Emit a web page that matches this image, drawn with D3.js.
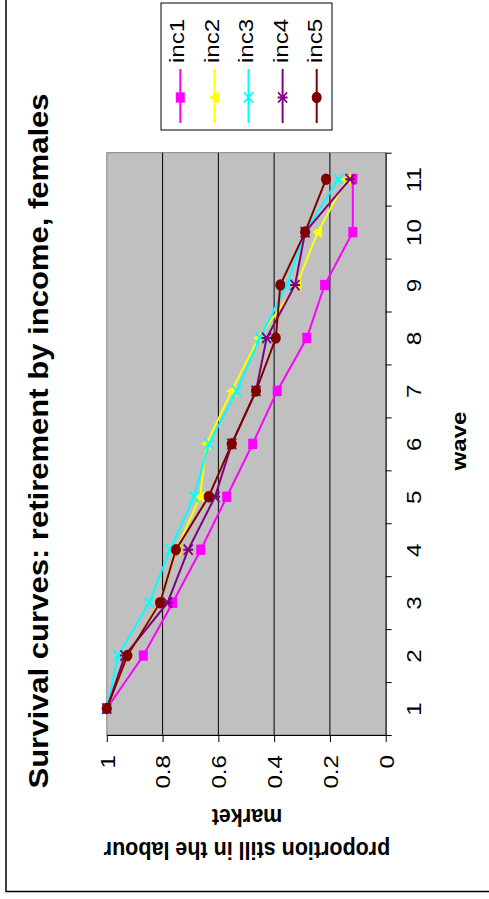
<!DOCTYPE html>
<html><head><meta charset="utf-8">
<script src="https://cdn.jsdelivr.net/npm/d3@7"></script>
<style>html,body{margin:0;padding:0;background:#fff;} svg{display:block;font-family:"Liberation Sans",Arial,Helvetica,sans-serif;}</style>
</head><body>
<svg id="c" width="489" height="899"></svg>
<script>
// ---------- data ----------
const waves = [1, 2, 3, 4, 5, 6, 7, 8, 9, 10, 11];
const valueTicks = [0, 0.2, 0.4, 0.6, 0.8, 1];
const seriesNames = ["inc1", "inc2", "inc3", "inc4", "inc5"];
const inc1 = [1, 0.869, 0.764, 0.663, 0.570, 0.477, 0.389, 0.283, 0.219, 0.118, 0.118];
const inc2 = [1, 0.925, 0.810, 0.750, 0.666, 0.642, 0.552, 0.456, 0.319, 0.244, 0.140];
const inc3 = [1, 0.959, 0.848, 0.773, 0.687, 0.634, 0.534, 0.451, 0.355, 0.289, 0.170];
const inc4 = [1, 0.935, 0.782, 0.708, 0.612, 0.552, 0.465, 0.427, 0.325, 0.289, 0.128];
const inc5 = [1, 0.926, 0.809, 0.752, 0.635, 0.552, 0.465, 0.394, 0.378, 0.289, 0.214];
const titleText = "Survival curves: retirement by income, females";
const xTitle = "wave";
const yTitleLines = ["proportion still in the labour", "market"];

// ---------- styles ----------
const seriesColors = ["#FF00FF", "#FFFF00", "#00FFFF", "#800080", "#800000"];
const markerTypes = ["square", "triangle", "x", "star", "circle"];
const K = 1.15; // vertical stretch of the (rotated) picture
const plot = {left: 106.8, right: 385.7, top: 152.7, bottom: 735};

const svg = d3.select("#c");
svg.append("rect").attr("width", 489).attr("height", 899).attr("fill", "#fff");

const x = d3.scaleLinear().domain([0, 1]).range([plot.right, plot.left]);
const y = d3.scaleLinear().domain([0.5, 11.5]).range([plot.bottom, plot.top]);

// outer frame (left and bottom visible)
svg.append("path").attr("d", "M6,-5V891.5H495").attr("fill", "none")
  .attr("stroke", "#000").attr("stroke-width", 1.5);

// plot area
svg.append("rect").attr("x", plot.left).attr("y", plot.top)
  .attr("width", plot.right - plot.left).attr("height", plot.bottom - plot.top)
  .attr("fill", "#C0C0C0").attr("stroke", "#808080").attr("stroke-width", 1);

// gridlines
svg.append("g").selectAll("line").data(valueTicks.filter(d => d > 0 && d < 1)).join("line")
  .attr("x1", d => x(d)).attr("x2", d => x(d))
  .attr("y1", plot.top).attr("y2", plot.bottom)
  .attr("stroke", "#000").attr("stroke-width", 1);

// value axis (bottom of picture)
const xAxis = svg.append("g").attr("transform", `translate(0,${plot.bottom})`)
  .call(d3.axisBottom(x).tickValues(valueTicks).tickSize(7).tickSizeOuter(0).tickFormat(d3.format("~g")));
xAxis.attr("font-family", null).attr("font-size", null);
xAxis.select(".domain").attr("stroke", "#000");
xAxis.selectAll(".tick line").attr("stroke", "#000");
xAxis.selectAll(".tick text").attr("y", null).attr("dy", "0.35em")
  .attr("text-anchor", "end").attr("font-size", 21).attr("fill", "#000")
  .attr("transform", `translate(0,20) scale(1,${K}) rotate(-90)`);

// category axis (right of picture)
const yAxis = svg.append("g").attr("transform", `translate(${plot.right},0)`)
  .call(d3.axisRight(y).tickValues(d3.range(0.5, 12, 1)).tickSize(6).tickSizeOuter(0).tickFormat(""));
yAxis.select(".domain").attr("stroke", "#000");
yAxis.selectAll(".tick line").attr("stroke", "#000");
const yLab = svg.append("g").attr("transform", `translate(${plot.right},0)`)
  .call(d3.axisRight(y).tickValues(waves).tickSize(0).tickFormat(d3.format("d")));
yLab.attr("font-family", null).attr("font-size", null);
yLab.select(".domain").remove();
yLab.selectAll(".tick text").attr("x", null).attr("dy", null)
  .attr("text-anchor", "middle").attr("font-size", 21).attr("fill", "#000")
  .attr("transform", `translate(35.5,0) scale(1,${K}) rotate(-90)`);

// markers
function drawMarker(g, type, color) {
  if (type === "square") {
    g.append("rect").attr("x", -4.5).attr("y", -4.5).attr("width", 9).attr("height", 9).attr("fill", color);
  } else if (type === "triangle") {
    g.append("path").attr("d", "M-5.5,0L4.5,-5.2L4.5,5.2Z").attr("fill", color);
  } else if (type === "x") {
    g.append("path").attr("d", "M-4.5,-4.5L4.5,4.5M-4.5,4.5L4.5,-4.5").attr("stroke", color).attr("stroke-width", 1.7).attr("fill", "none");
  } else if (type === "star") {
    g.append("path").attr("d", "M-4.5,-4.5L4.5,4.5M-4.5,4.5L4.5,-4.5M-5,0H5").attr("stroke", color).attr("stroke-width", 1.7).attr("fill", "none");
  } else {
    g.append("circle").attr("r", 5).attr("fill", color);
  }
}

// series
const seriesData = [inc1, inc2, inc3, inc4, inc5];
const line = d3.line().x(d => x(d[1])).y(d => y(d[0]));
seriesData.forEach((vals, i) => {
  const pts = waves.map((w, j) => [w, vals[j]]);
  const g = svg.append("g");
  g.append("path").attr("d", line(pts)).attr("fill", "none")
    .attr("stroke", seriesColors[i]).attr("stroke-width", 2);
  g.selectAll("g.m").data(pts).join("g").attr("class", "m")
    .attr("transform", d => `translate(${x(d[1])},${y(d[0])}) scale(1,${K})`)
    .each(function () { drawMarker(d3.select(this), markerTypes[i], seriesColors[i]); });
});

// title
svg.append("text").attr("font-weight", "bold").attr("font-size", 27).attr("text-anchor", "middle")
  .attr("transform", `translate(48,441) scale(1,${K}) rotate(-90)`).text(titleText);

// x title (wave)
svg.append("text").attr("font-weight", "bold").attr("font-size", 21).attr("text-anchor", "middle")
  .attr("transform", `translate(466,441) scale(1,${K}) rotate(-90)`).text(xTitle);

// y title (upside down)
const yBase = [842, 809];
yTitleLines.forEach((t, i) => {
  svg.append("text").attr("font-weight", "bold").attr("font-size", 21.5).attr("text-anchor", "middle")
    .attr("transform", `translate(247,${yBase[i]}) scale(1,${K}) rotate(180)`).text(t);
});

// legend
const leg = svg.append("g");
leg.append("rect").attr("x", 161).attr("y", 3).attr("width", 171).attr("height", 127)
  .attr("fill", "#fff").attr("stroke", "#000").attr("stroke-width", 1);
seriesNames.forEach((name, i) => {
  const lx = 180.3 + 34.1 * i;
  leg.append("line").attr("x1", lx).attr("x2", lx).attr("y1", 69).attr("y2", 123)
    .attr("stroke", seriesColors[i]).attr("stroke-width", 2);
  const mg = leg.append("g").attr("transform", `translate(${lx},97.5) scale(1,${K})`);
  drawMarker(mg, markerTypes[i], seriesColors[i]);
  leg.append("text").attr("font-size", 21).attr("text-anchor", "start")
    .attr("transform", `translate(${184 + 34.5 * i},63) scale(1,${K}) rotate(-90)`).text(name);
});
</script>
</body></html>
